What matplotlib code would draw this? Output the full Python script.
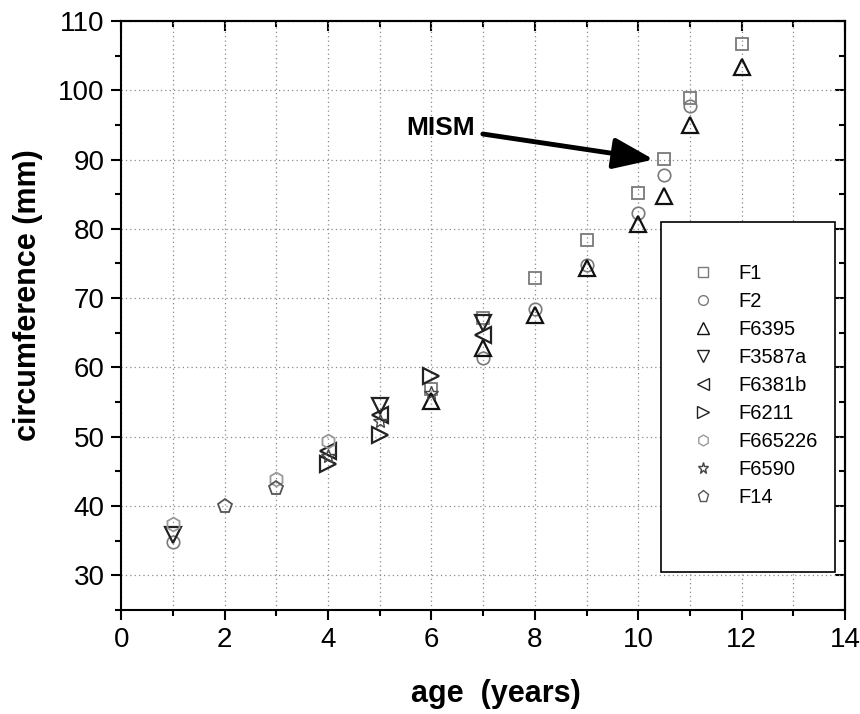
import matplotlib
matplotlib.use("Agg")
import matplotlib.pyplot as plt
from matplotlib.patches import Rectangle
from matplotlib.ticker import MultipleLocator

plt.rcParams['font.family'] = ['Liberation Sans', 'DejaVu Sans']

# Circumference (mm) against age (years) for each specimen
f1_age = [6, 7, 8, 9, 10, 10.5, 11, 12]
f1_circ = [56.9, 67.1, 72.9, 78.4, 85.1, 90.05, 98.9, 106.7]

f2_age = [1, 7, 8, 9, 10, 10.5, 11]
f2_circ = [34.85, 61.3, 68.5, 74.8, 82.3, 87.75, 97.7]

f6395_age = [6, 7, 8, 9, 10, 10.5, 11, 12]
f6395_circ = [55.2, 62.8, 67.5, 74.4, 80.7, 84.7, 95.0, 103.4]

f3587a_age = [1, 5, 7]
f3587a_circ = [35.8, 54.4, 66.4]

f6381b_age = [4, 5, 7]
f6381b_circ = [48.0, 53.1, 64.7]

f6211_age = [4, 5, 6]
f6211_circ = [46.1, 50.2, 58.8]

f665226_age = [1, 3, 4]
f665226_circ = [37.4, 43.9, 49.4]

f6590_age = [4, 5, 6]
f6590_circ = [47.2, 52.2, 56.3]

f14_age = [2, 3]
f14_circ = [40.0, 42.55]

series = [
    ("F1", f1_age, f1_circ, "s", "#7a7a7a", 8.5, 1.3),
    ("F2", f2_age, f2_circ, "o", "#7a7a7a", 9.0, 1.2),
    ("F6395", f6395_age, f6395_circ, "^", "#111111", 11.0, 1.6),
    ("F3587a", f3587a_age, f3587a_circ, "v", "#222222", 11.0, 1.6),
    ("F6381b", f6381b_age, f6381b_circ, "<", "#222222", 11.0, 1.6),
    ("F6211", f6211_age, f6211_circ, ">", "#222222", 11.0, 1.6),
    ("F665226", f665226_age, f665226_circ, "h", "#9a9a9a", 10.0, 1.3),
    ("F6590", f6590_age, f6590_circ, "*", "#444444", 10.5, 1.0),
    ("F14", f14_age, f14_circ, "p", "#555555", 10.5, 1.3),
]

fig = plt.figure(figsize=(8.6, 7.14), dpi=100)
ax = fig.add_axes([0.141, 0.1457, 0.8416, 0.825])

handles = []
for name, xs, ys, mk, col, ms, mew in series:
    ax.plot(xs, ys, linestyle="none", marker=mk, markersize=ms,
            markerfacecolor="none", markeredgecolor=col, markeredgewidth=mew,
            zorder=3)
    h, = ax.plot([], [], linestyle="none", marker=mk, markersize=ms * 0.78,
                 markerfacecolor="none", markeredgecolor=col,
                 markeredgewidth=1.0, label=name)
    handles.append(h)

ax.set_xlim(0, 14)
ax.set_ylim(25, 110)
ax.xaxis.set_major_locator(MultipleLocator(2))
ax.xaxis.set_minor_locator(MultipleLocator(1))
ax.yaxis.set_major_locator(MultipleLocator(10))
ax.yaxis.set_minor_locator(MultipleLocator(5))
ax.set_yticks([30, 40, 50, 60, 70, 80, 90, 100, 110])

ax.tick_params(which="major", direction="out", length=7, width=1.5,
               labelsize=20, pad=5, top=False, right=False)
ax.tick_params(which="minor", direction="out", length=4, width=1.5,
               top=False, right=False)

for side in ["top", "bottom", "left", "right"]:
    ax.spines[side].set_linewidth(1.5)

# grid: every year on x, every 10 mm on y
ax.grid(True, which="both", axis="x", linestyle=(0, (1, 2.5)),
        color="#8a8a8a", linewidth=0.9)
ax.grid(True, which="major", axis="y", linestyle=(0, (1, 2.5)),
        color="#8a8a8a", linewidth=0.9)
ax.set_axisbelow(True)

# mirrored inward ticks on the top and right edges
top = ax.secondary_xaxis("top")
top.xaxis.set_major_locator(MultipleLocator(2))
top.xaxis.set_minor_locator(MultipleLocator(1))
top.tick_params(which="major", direction="in", length=7, width=1.5,
                labeltop=False)
top.tick_params(which="minor", direction="in", length=4, width=1.5)
top.spines["top"].set_linewidth(1.5)

right = ax.secondary_yaxis("right")
right.yaxis.set_major_locator(MultipleLocator(10))
right.yaxis.set_minor_locator(MultipleLocator(5))
right.tick_params(which="major", direction="in", length=7, width=1.5,
                  labelright=False)
right.tick_params(which="minor", direction="in", length=4, width=1.5)
right.spines["right"].set_linewidth(1.5)

ax.set_xlabel("age  (years)", fontsize=22, fontweight="bold")
ax.set_ylabel("circumference (mm)", fontsize=22, fontweight="bold")
ax.xaxis.set_label_coords(0.517, -0.118)
ax.yaxis.set_label_coords(-0.108, 0.535)

ax.annotate("MISM", xy=(10.3, 90.0), xytext=(6.17, 94.6),
            fontsize=19, fontweight="bold", ha="center", va="center",
            arrowprops=dict(arrowstyle="-|>,head_length=1.3,head_width=0.5",
                            lw=3.5, color="black", shrinkA=4, shrinkB=0))

# legend frame
ax.add_patch(Rectangle((0.7454, 0.065), 0.2408, 0.594,
                       transform=ax.transAxes, facecolor="white",
                       edgecolor="black", linewidth=1.2, zorder=4))
leg = ax.legend(handles=handles, loc="upper left",
                bbox_to_anchor=(0.79, 0.588), frameon=False, fontsize=14.5,
                handlelength=1.0, handletextpad=1.25, labelspacing=0.45,
                borderpad=0, borderaxespad=0)
leg.set_zorder(5)

fig.savefig("out.png", dpi=100)
